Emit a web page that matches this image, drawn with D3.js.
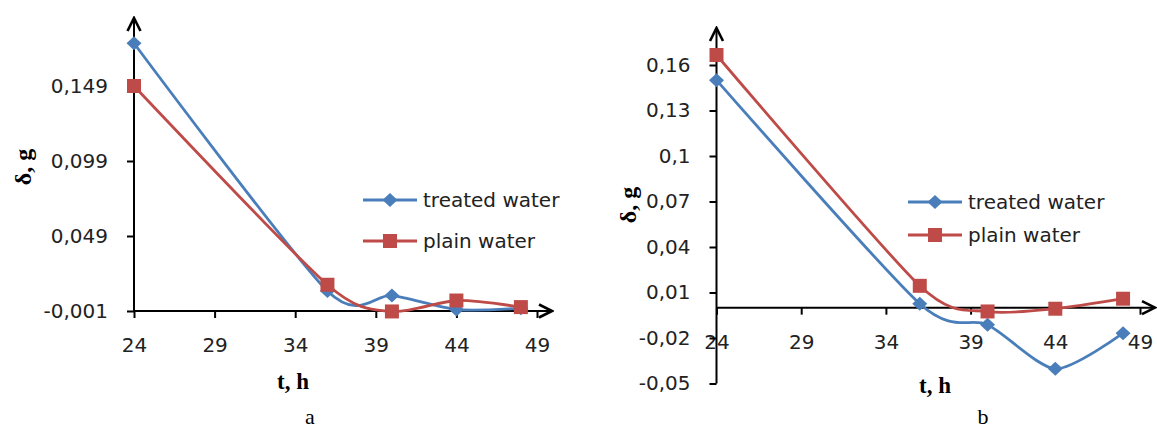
<!DOCTYPE html>
<html>
<head>
<meta charset="utf-8">
<script src="https://cdn.jsdelivr.net/npm/d3@7"></script>
<style>
  body { margin: 0; background: #fff; }
  svg { display: block; }
</style>
</head>
<body>
<div id="chart"></div>
<script>
// hours of observation (same for both panels)
const hours = [24, 36, 40, 44, 48];
const xTicks = [24, 29, 34, 39, 44, 49];

// panel a
const treatedA = [0.1775, 0.0123, 0.0094, 0.0000, 0.0008];
const plainA = [0.149, 0.0165, -0.0013, 0.0060, 0.0016];
const yTicksA = [-0.001, 0.049, 0.099, 0.149];

// panel b
const treatedB = [0.150, 0.0026, -0.0113, -0.0403, -0.0168];
const plainB = [0.1666, 0.0144, -0.0025, -0.0007, 0.0059];
const yTicksB = [-0.05, -0.02, 0.01, 0.04, 0.07, 0.1, 0.13, 0.16];

const seriesNames = ["treated water", "plain water"];
const seriesColors = ["#4a7ebb", "#be4b48"];

const W = 1157, H = 428;
const tickFont = "DejaVu Sans, sans-serif";
const serif = "Liberation Serif, Times New Roman, serif";

const svg = d3.select("#chart").append("svg")
    .attr("width", W)
    .attr("height", H);

svg.append("rect").attr("width", W).attr("height", H).attr("fill", "#fff");

svg.append("defs").append("marker")
    .attr("id", "arrow")
    .attr("markerUnits", "userSpaceOnUse")
    .attr("viewBox", "-16 -9 18 18")
    .attr("refX", 0)
    .attr("refY", 0)
    .attr("markerWidth", 18)
    .attr("markerHeight", 18)
    .attr("orient", "auto")
  .append("path")
    .attr("d", "M-13,-6.5L0,0L-13,6.5")
    .attr("fill", "none")
    .attr("stroke", "#000")
    .attr("stroke-width", 2.6);

const fmt = d => String(d).replace(".", ",");

function drawPanel(p) {
  const x = d3.scaleLinear().domain([24, 49]).range(p.xRange);
  const y = d3.scaleLinear().domain(p.yDomain).range(p.yRange);
  const g = svg.append("g");

  // x axis crosses at p.xCross
  const xAxisY = y(p.xCross);

  const xAxis = g.append("g")
      .attr("transform", `translate(0,${xAxisY})`)
      .call(d3.axisBottom(x).tickValues(xTicks).tickSize(7).tickPadding(p.xPad).tickFormat(d3.format("d")));
  xAxis.select(".domain").remove();
  xAxis.selectAll(".tick line").attr("stroke", "#000").attr("stroke-width", 2);
  xAxis.selectAll("text")
      .attr("font-family", tickFont).attr("font-size", 20).attr("fill", "#222");

  const yAxis = g.append("g")
      .attr("transform", `translate(${p.xRange[0]},0)`)
      .call(d3.axisLeft(y).tickValues(p.yTicks).tickSize(7).tickPadding(19).tickFormat(fmt));
  yAxis.select(".domain").remove();
  yAxis.selectAll(".tick line").attr("stroke", "#000").attr("stroke-width", 2);
  yAxis.selectAll("text")
      .attr("font-family", tickFont).attr("font-size", 20).attr("fill", "#222");

  // axis lines with arrow heads
  g.append("line")
      .attr("x1", p.xRange[0]).attr("x2", p.xArrow)
      .attr("y1", xAxisY).attr("y2", xAxisY)
      .attr("stroke", "#000").attr("stroke-width", 2)
      .attr("marker-end", "url(#arrow)");
  g.append("line")
      .attr("x1", p.xRange[0]).attr("x2", p.xRange[0])
      .attr("y1", y(p.yDomain[0])).attr("y2", p.yArrow)
      .attr("stroke", "#000").attr("stroke-width", 2)
      .attr("marker-end", "url(#arrow)");

  // series, smoothed like the spreadsheet lines
  const line = d3.line()
      .x((d, i) => x(hours[i]))
      .y(d => y(d))
      .curve(d3.curveCardinal.tension(0.25));

  p.series.forEach((vals, k) => {
    g.append("path")
        .attr("d", line(vals))
        .attr("fill", "none")
        .attr("stroke", seriesColors[k])
        .attr("stroke-width", 2.8);
    g.selectAll(null)
      .data(vals)
      .join("path")
        .attr("transform", (d, i) => `translate(${x(hours[i])},${y(d)})`)
        .attr("d", k === 0 ? "M0,-7L7.5,0L0,7L-7.5,0Z" : "M-7,-7H7V7H-7Z")
        .attr("fill", seriesColors[k]);
  });

  // legend
  p.legendY.forEach((ly, k) => {
    const lg = g.append("g").attr("transform", `translate(${p.legendX},${ly})`);
    lg.append("line")
        .attr("x1", 0).attr("x2", 54)
        .attr("stroke", seriesColors[k]).attr("stroke-width", 2.8);
    lg.append("path")
        .attr("transform", "translate(27,0)")
        .attr("d", k === 0 ? "M0,-7L7.5,0L0,7L-7.5,0Z" : "M-7,-7H7V7H-7Z")
        .attr("fill", seriesColors[k]);
    lg.append("text")
        .attr("x", 60)
        .attr("dy", "0.36em")
        .attr("font-family", tickFont).attr("font-size", 20).attr("fill", "#222")
        .text(seriesNames[k]);
  });

  // axis titles
  g.append("text")
      .attr("transform", `translate(${p.yTitle[0]},${p.yTitle[1]}) rotate(-90)`)
      .attr("text-anchor", "middle")
      .attr("dy", "0.35em")
      .attr("font-family", serif).attr("font-weight", "bold").attr("font-size", 24)
      .text("δ, g");
  g.append("text")
      .attr("x", p.xTitle[0]).attr("y", p.xTitle[1])
      .attr("text-anchor", "middle")
      .attr("dy", "0.35em")
      .attr("font-family", serif).attr("font-weight", "bold").attr("font-size", 23)
      .text("t, h");
  g.append("text")
      .attr("x", p.caption[0]).attr("y", p.caption[1])
      .attr("text-anchor", "middle")
      .attr("dy", "0.35em")
      .attr("font-family", serif).attr("font-size", 22)
      .text(p.label);
}

drawPanel({
  xRange: [134, 537],
  yDomain: [-0.001, 0.149],
  yRange: [311, 86],
  yTicks: yTicksA,
  xCross: -0.001,
  xPad: 20,
  xArrow: 552,
  yArrow: 18,
  series: [treatedA, plainA],
  legendX: 363,
  legendY: [200, 241],
  yTitle: [23, 167],
  xTitle: [293, 381],
  caption: [310, 416],
  label: "a"
});

drawPanel({
  xRange: [716.5, 1140],
  yDomain: [-0.05, 0.16],
  yRange: [383.5, 65],
  yTicks: yTicksB,
  xCross: 0,
  xPad: 20,
  xArrow: 1155,
  yArrow: 28,
  series: [treatedB, plainB],
  legendX: 908,
  legendY: [202, 235],
  yTitle: [628, 205],
  xTitle: [935, 385],
  caption: [983, 416],
  label: "b"
});
</script>
</body>
</html>
